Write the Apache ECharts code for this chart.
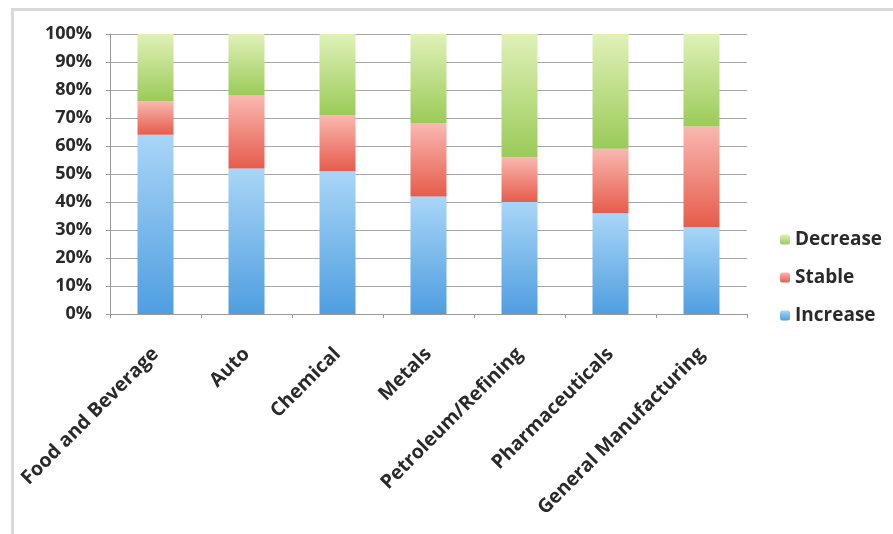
<!DOCTYPE html>
<html>
<head>
<meta charset="utf-8">
<script src="https://cdn.jsdelivr.net/npm/echarts@6/dist/echarts.min.js"></script>
<style>
html,body{margin:0;padding:0;background:#fff;}
#chart{width:893px;height:534px;}
</style>
</head>
<body>
<div id="chart"></div>
<script>
const categories = ['Food and Beverage','Auto','Chemical','Metals','Petroleum/Refining','Pharmaceuticals','General Manufacturing'];
const increaseValues = [64, 52, 51, 42, 40, 36, 31];
const stableValues   = [12, 26, 20, 26, 16, 23, 36];
const decreaseValues = [24, 22, 29, 32, 44, 41, 33];
const yTicks = [0,10,20,30,40,50,60,70,80,90,100];

function grad(top, bottom){
  return new echarts.graphic.LinearGradient(0,0,0,1,[{offset:0,color:top},{offset:1,color:bottom}]);
}
const fontFam = '"Open Sans", "DejaVu Sans", sans-serif';

const chart = echarts.init(document.getElementById('chart'), null, {renderer:'canvas'});
chart.setOption({
  backgroundColor:'#ffffff',
  animation:false,
  graphic:[
    {type:'rect', left:11, top:8, shape:{x:0,y:0,width:890,height:3}, style:{fill:'#d9d9d9'}, silent:true},
    {type:'rect', left:11, top:8, shape:{x:0,y:0,width:3,height:530}, style:{fill:'#d9d9d9'}, silent:true}
  ],
  legend:{
    orient:'vertical',
    left:775,
    top:225,
    itemWidth:10,
    itemHeight:10,
    itemGap:19,
    data:['Decrease','Stable','Increase'],
    textStyle:{fontFamily:fontFam, fontWeight:'bold', fontSize:19, color:'#2a2a2a'}
  },
  grid:{left:110, right:146, top:34, bottom:220, containLabel:false},
  xAxis:{
    type:'category',
    data:categories,
    axisLine:{show:true, lineStyle:{color:'#9a9a9a', width:1}},
    axisTick:{show:true, alignWithLabel:false, length:4, lineStyle:{color:'#9a9a9a'}},
    axisLabel:{
      rotate:45, interval:0, margin:37,
      fontFamily:fontFam, fontWeight:'bold', fontSize:19.5, color:'#2a2a2a'
    }
  },
  yAxis:{
    type:'value',
    min:0, max:100, interval:10,
    axisLine:{show:true, lineStyle:{color:'#9a9a9a'}},
    axisTick:{show:true, length:4, lineStyle:{color:'#9a9a9a'}},
    splitLine:{show:true, lineStyle:{color:'#a6a6a6', width:1}},
    axisLabel:{
      margin:18,
      fontFamily:fontFam, fontWeight:'bold', fontSize:18, color:'#2a2a2a',
      formatter: v => yTicks.includes(v) ? v + '%' : ''
    }
  },
  series:[
    {name:'Increase', type:'bar', stack:'total', data:increaseValues, barWidth:36,
     itemStyle:{color:grad('#a9d6f7','#4f9ee0')}},
    {name:'Stable', type:'bar', stack:'total', data:stableValues, barWidth:36,
     itemStyle:{color:grad('#f9b8b0','#e65c4c')}},
    {name:'Decrease', type:'bar', stack:'total', data:decreaseValues, barWidth:36,
     itemStyle:{color:grad('#e0f1b8','#9acb58')}}
  ]
});
</script>
</body>
</html>
